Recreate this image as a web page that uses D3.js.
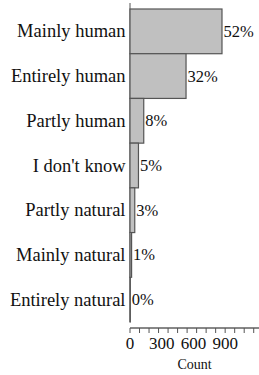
<!DOCTYPE html>
<html>
<head>
<meta charset="utf-8">
<script src="https://cdn.jsdelivr.net/npm/d3@7"></script>
<style>
  html, body { margin: 0; padding: 0; background: #fff; }
  svg { display: block; }
  svg text { font-family: "Liberation Serif", "Times New Roman", Times, serif; fill: #111; }
</style>
</head>
<body>
<svg id="chart" width="259" height="375"></svg>
<script>
const categories = ["Mainly human", "Entirely human", "Partly human", "I don't know", "Partly natural", "Mainly natural", "Entirely natural"];
const counts = [870, 530, 130, 80, 45, 15, 3];
const percentLabels = ["52%", "32%", "8%", "5%", "3%", "1%", "0%"];
const tickLabels = [0, 300, 600, 900];
const minorTicks = [0, 90, 180, 270, 360, 450, 540, 630, 720, 810, 900, 990, 1080, 1170];

const svg = d3.select("#chart");
const x = d3.scaleLinear().domain([0, 1220]).range([130, 259]);
const y = d3.scaleBand().domain(categories).range([9, 322]).padding(0);

svg.append("line")
  .attr("x1", x(0)).attr("x2", x(0))
  .attr("y1", 3).attr("y2", y.range()[1])
  .attr("stroke", "#555").attr("stroke-width", 1);

svg.selectAll("rect.bar").data(categories).join("rect")
  .attr("class", "bar")
  .attr("x", x(0))
  .attr("y", d => y(d))
  .attr("width", (d, i) => x(counts[i]) - x(0))
  .attr("height", y.bandwidth())
  .attr("fill", "#c0c0c0")
  .attr("stroke", "#555")
  .attr("stroke-width", 1.2);

svg.selectAll("text.cat").data(categories).join("text")
  .attr("class", "cat")
  .attr("x", x(0) - 4.5)
  .attr("y", d => y(d) + y.bandwidth() / 2)
  .attr("dy", "0.33em")
  .attr("text-anchor", "end")
  .attr("font-size", 18.5)
  .text(d => d);

svg.selectAll("text.pct").data(categories).join("text")
  .attr("class", "pct")
  .attr("x", (d, i) => x(counts[i]) + 1.5)
  .attr("y", d => y(d) + y.bandwidth() / 2)
  .attr("dy", "0.33em")
  .attr("font-size", 16.5)
  .text((d, i) => percentLabels[i]);

const axisY = 328;
const gx = svg.append("g").attr("transform", `translate(0,${axisY})`);
gx.append("line")
  .attr("x1", x(0)).attr("x2", 259)
  .attr("stroke", "#111").attr("stroke-width", 1);
gx.selectAll("line.tick").data(minorTicks).join("line")
  .attr("class", "tick")
  .attr("x1", d => x(d)).attr("x2", d => x(d))
  .attr("y1", 0).attr("y2", 5)
  .attr("stroke", "#555").attr("stroke-width", 1);
gx.selectAll("text.tl").data(tickLabels).join("text")
  .attr("class", "tl")
  .attr("x", d => x(d))
  .attr("y", 21)
  .attr("text-anchor", "middle")
  .attr("font-size", 17)
  .text(d => d);
svg.append("text")
  .attr("x", (x(0) + 259) / 2)
  .attr("y", 369)
  .attr("text-anchor", "middle")
  .attr("font-size", 14)
  .text("Count");
</script>
</body>
</html>
